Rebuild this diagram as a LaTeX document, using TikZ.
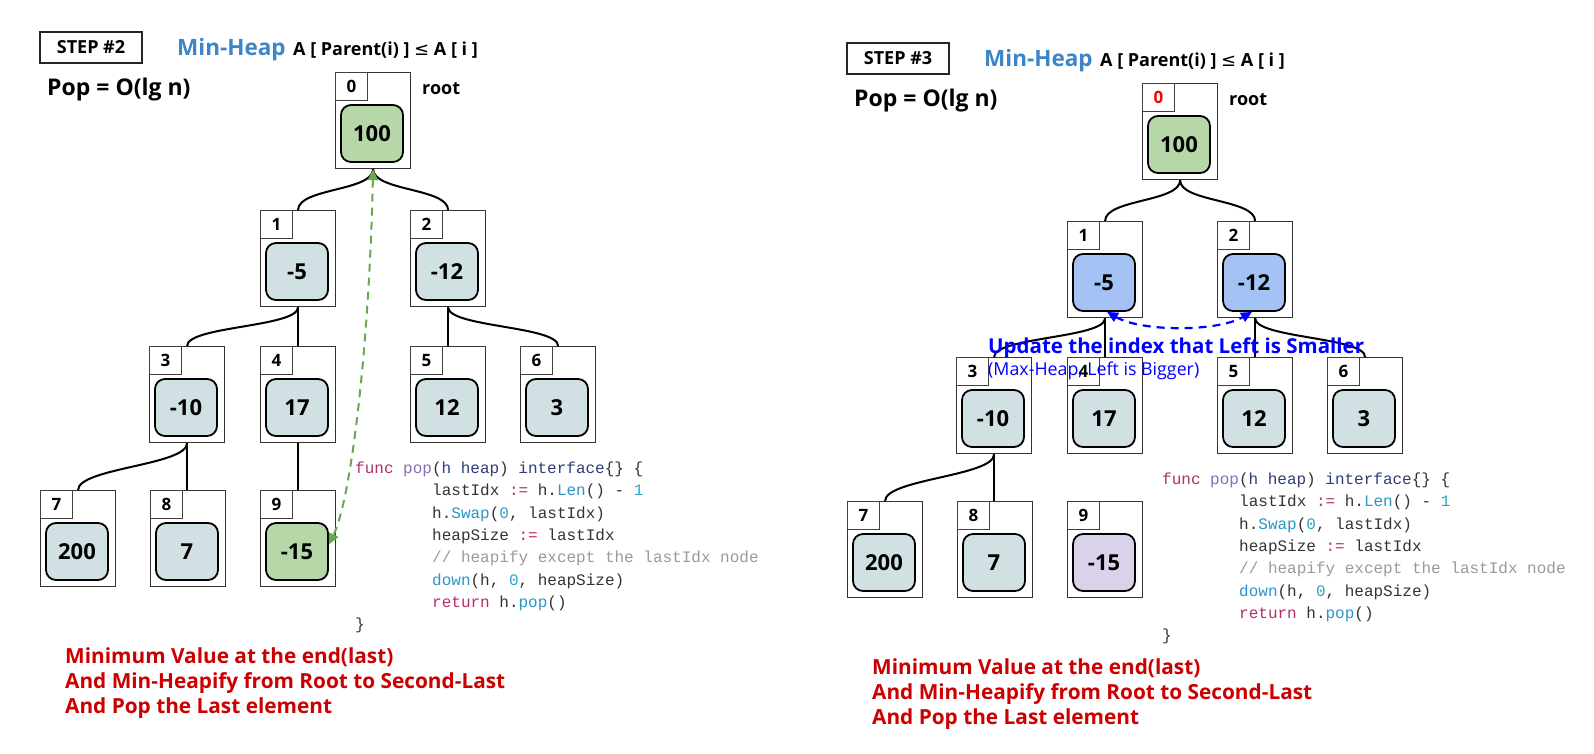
\documentclass[tikz,border=0pt]{standalone}
\usepackage{fontspec}
\setmainfont{Open Sans}
\newfontfamily\codefont{Liberation Mono}
\newfontfamily\symfnt{DejaVu Sans}
\usetikzlibrary{arrows.meta,calc}
\definecolor{cellfill}{HTML}{D0E0E3}
\definecolor{greenfill}{HTML}{B6D7A8}
\definecolor{bluefill}{HTML}{A4C2F4}
\definecolor{purplefill}{HTML}{D9D2E9}
\definecolor{titleblue}{HTML}{3D85C6}
\definecolor{notered}{HTML}{CC0000}
\definecolor{arrowgreen}{HTML}{6AA84F}
\definecolor{kwc}{HTML}{B0306E}
\definecolor{fnc}{HTML}{8E6BB5}
\definecolor{typc}{HTML}{2E3D78}
\definecolor{callc}{HTML}{2A96C8}
\definecolor{numc}{HTML}{2AA4C6}
\definecolor{cmtc}{HTML}{9A9A9A}
\definecolor{plainc}{HTML}{333333}
\newcommand\fsz[1]{\fontsize{#1}{#1}\selectfont}
\tikzset{
  outerbox/.style={draw=black!80, line width=1.2pt, fill=white, minimum width=75pt, minimum height=96pt, inner sep=0pt, anchor=north west},
  idxbox/.style={draw=black!75, line width=1pt, minimum width=32pt, minimum height=28pt, inner sep=0pt, anchor=north west, font=\bfseries\fsz{17}},
  valbox/.style={draw=black, line width=1.8pt, rounded corners=10pt, minimum width=62pt, minimum height=57pt, inner sep=0pt, font=\bfseries\fsz{22}},
  edgeline/.style={line width=2pt, black},
  txt/.style={anchor=base west, inner sep=0pt},
  stepbox/.style={draw=black!85, line width=1.5pt, minimum width=102pt, minimum height=31pt, inner sep=0pt, font=\bfseries\fsz{18}},
  codeline/.style={anchor=base west, inner sep=0pt, font=\codefont\fsz{16}, text=plainc},
  notetxt/.style={anchor=base west, inner sep=0pt, font=\bfseries\fsz{20.8}, text=notered},
  garrow/.style={arrowgreen, line width=2pt, dash pattern=on 8pt off 6pt, {Triangle[length=11pt,width=10pt]}-{Triangle[length=11pt,width=10pt]}},
  barrow/.style={blue, line width=2.2pt, dash pattern=on 8pt off 6pt, {Triangle[length=11pt,width=10pt]}-{Triangle[length=11pt,width=10pt]}}
}
% name, X, Y, index, value, fill, index colour
\newcommand\heapnode[7]{%
  \node[outerbox] (#1) at (#2,#3) {};
  \node[idxbox, text=#7] (#1-i) at (#2,#3) {#4};
  \node[valbox, fill=#6] (#1-v) at ({#2+37},{#3+61.5}) {#5};
}
% prefix, step number, fill1, fill2, fill9, idx0 colour
\newcommand\drawpanel[6]{%
  \node[stepbox] (#1step) at (91,47.5) {STEP \##2};
  \node[txt, font=\bfseries\fsz{22.5}, text=titleblue] (#1mh) at (177,55) {Min-Heap};
  \node[txt, font=\bfseries\fsz{18}] (#1rule) at (293,55) {A [ Parent(i) ] {\symfnt\mdseries ≤} A [ i ]};
  \node[txt, font=\bfseries\fsz{23}] (#1pop) at (47,95) {Pop = O(lg n)};
  \node[txt, font=\bfseries\fsz{18}] (#1root) at (422,94) {root};
  \heapnode{#1n0}{335}{72}{0}{100}{greenfill}{#6}
  \heapnode{#1n1}{260}{210}{1}{-5}{#3}{black}
  \heapnode{#1n2}{410}{210}{2}{-12}{#4}{black}
  \heapnode{#1n3}{149}{346}{3}{-10}{cellfill}{black}
  \heapnode{#1n4}{260}{346}{4}{17}{cellfill}{black}
  \heapnode{#1n5}{410}{346}{5}{12}{cellfill}{black}
  \heapnode{#1n6}{520}{346}{6}{3}{cellfill}{black}
  \heapnode{#1n7}{40}{490}{7}{200}{cellfill}{black}
  \heapnode{#1n8}{150}{490}{8}{7}{cellfill}{black}
  \heapnode{#1n9}{260}{490}{9}{-15}{#5}{black}
  \draw[edgeline] (#1n0.south) .. controls +(0,22) and +(0,-22) .. (#1n1.north);
  \draw[edgeline] (#1n0.south) .. controls +(0,22) and +(0,-22) .. (#1n2.north);
  \draw[edgeline] (#1n1.south) .. controls +(0,20) and +(0,-20) .. (#1n3.north);
  \draw[edgeline] (#1n1.south) -- (#1n4.north);
  \draw[edgeline] (#1n2.south) -- (#1n5.north);
  \draw[edgeline] (#1n2.south) .. controls +(0,20) and +(0,-20) .. (#1n6.north);
  \draw[edgeline] (#1n3.south) .. controls +(0,22) and +(0,-22) .. (#1n7.north);
  \draw[edgeline] (#1n3.south) -- (#1n3.south |- #1n8.north);
  \node[codeline] (#1c1) at (355,473.5) {\textcolor{kwc}{func} \textcolor{fnc}{pop}(\textcolor{typc}{h heap}) \textcolor{typc}{interface}\{\} \{};
  \node[codeline] (#1c2) at (432,495.8) {lastIdx \textcolor{kwc}{:=} h.\textcolor{callc}{Len}() - \textcolor{numc}{1}};
  \node[codeline] (#1c3) at (432,518.1) {h.\textcolor{callc}{Swap}(\textcolor{numc}{0}, lastIdx)};
  \node[codeline] (#1c4) at (432,540.4) {heapSize \textcolor{kwc}{:=} lastIdx};
  \node[codeline] (#1c5) at (432,562.7) {\textcolor{cmtc}{// heapify except the lastIdx node}};
  \node[codeline] (#1c6) at (432,585.0) {\textcolor{callc}{down}(h, \textcolor{numc}{0}, heapSize)};
  \node[codeline] (#1c7) at (432,607.3) {\textcolor{kwc}{return} h.\textcolor{callc}{pop}()};
  \node[codeline] (#1c8) at (355,629.6) {\}};
  \node[notetxt] (#1r1) at (65,663) {Minimum Value at the end(last)};
  \node[notetxt] (#1r2) at (65,688) {And Min-Heapify from Root to Second-Last};
  \node[notetxt] (#1r3) at (65,713) {And Pop the Last element};
}
\begin{document}
\begin{tikzpicture}[x=1pt,y=-1pt]
  \useasboundingbox[fill=white] (0,0) rectangle (1594,753);
  \drawpanel{L}{2}{cellfill}{cellfill}{greenfill}{black}
  \draw[edgeline] (Ln4.south) -- (Ln9.north);
  \draw[garrow] (Ln0.south) .. controls +(-4,180) and +(22,-45) .. ([yshift=7pt]Ln9-v.east);
  \begin{scope}[shift={(807,11)}]
    \drawpanel{R}{3}{bluefill}{bluefill}{purplefill}{red}
  \end{scope}
  \draw[barrow] ([xshift=3pt]Rn1-v.south) .. controls +(35,20) and +(-35,20) .. ([xshift=-2pt]Rn2-v.south);
  \node[txt, font=\bfseries\fsz{20.5}, text=blue] (upd) at (988,353) {Update the index that Left is Smaller};
  \node[txt, font=\fsz{17.8}, text=blue] (maxh) at (988,375) {(Max-Heap, Left is Bigger)};
\end{tikzpicture}
\end{document}
